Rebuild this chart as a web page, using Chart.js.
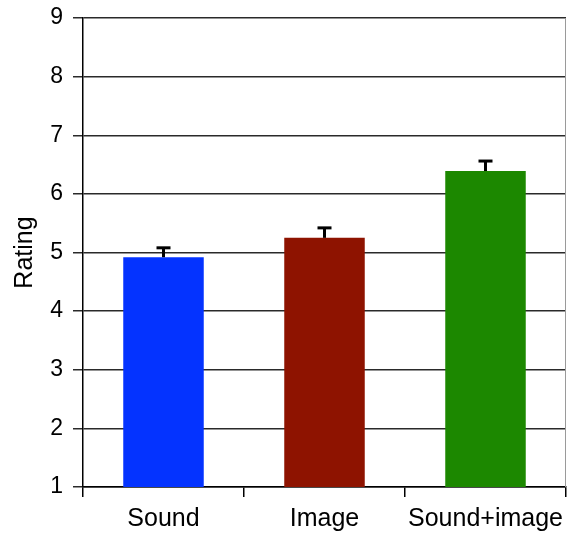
<!DOCTYPE html>
<html>
<head>
<meta charset="utf-8">
<script src="https://cdn.jsdelivr.net/npm/chart.js@4.4.1/dist/chart.umd.min.js"></script>
<style>
  html, body { margin: 0; padding: 0; background: #fff; }
  #chart1 { display: block; }
</style>
</head>
<body>
<canvas id="chart1" width="567" height="533"></canvas>
<script>
// ratings per condition, with the upper error (standard error) above each bar
const conditions = ['Sound', 'Image', 'Sound+image'];
const ratings = [4.92, 5.25, 6.39];
const errors = [0.16, 0.17, 0.17];
const barColors = ['#0433ff', '#8e1300', '#1c8800'];
const yTicks = [1, 2, 3, 4, 5, 6, 7, 8, 9];

const fontFamily = '"Liberation Sans", Arial, Helvetica, sans-serif';

// upper error whiskers with a flat cap
const errorBars = {
    id: 'errorBars',
    afterDatasetsDraw(chart) {
        const ctx = chart.ctx;
        const y = chart.scales.y;
        const meta = chart.getDatasetMeta(0);
        ctx.save();
        ctx.strokeStyle = '#000';
        ctx.lineWidth = 3;
        meta.data.forEach(function(bar, i) {
            const top = y.getPixelForValue(ratings[i] + errors[i]);
            const base = y.getPixelForValue(ratings[i]);
            ctx.beginPath();
            ctx.moveTo(bar.x, base);
            ctx.lineTo(bar.x, top);
            ctx.stroke();
            ctx.beginPath();
            ctx.moveTo(bar.x - 7, top);
            ctx.lineTo(bar.x + 7, top);
            ctx.stroke();
        });
        ctx.restore();
    }
};

// thin grey frame line on the right of the plot
const rightEdge = {
    id: 'rightEdge',
    afterDraw(chart) {
        const a = chart.chartArea;
        const ctx = chart.ctx;
        ctx.save();
        ctx.strokeStyle = '#9a9a9a';
        ctx.lineWidth = 1;
        ctx.beginPath();
        ctx.moveTo(a.right - 0.5, a.top);
        ctx.lineTo(a.right - 0.5, a.bottom);
        ctx.stroke();
        ctx.restore();
    }
};

const data = {
    labels: conditions,
    datasets: [{
        data: ratings,
        backgroundColor: barColors,
        borderWidth: 0,
        barPercentage: 0.5,
        categoryPercentage: 1
    }]
};

const config = {
    type: 'bar',
    data: data,
    options: {
        responsive: false,
        animation: false,
        layout: { padding: { top: 18, right: 1, left: 0, bottom: 0 } },
        plugins: {
            legend: { display: false },
            tooltip: { enabled: false }
        },
        scales: {
            x: {
                grid: {
                    offset: true,
                    drawOnChartArea: false,
                    drawTicks: true,
                    tickLength: 10,
                    color: '#000',
                    lineWidth: 1.5
                },
                border: { color: '#000', width: 1.5 },
                ticks: {
                    color: '#000',
                    padding: 7,
                    maxRotation: 0,
                    font: { family: fontFamily, size: 25 }
                },
                afterFit(scale) {
                    scale.height = 46;
                    scale.paddingLeft = 0;
                    scale.paddingRight = 0;
                }
            },
            y: {
                min: 1,
                max: 9,
                afterBuildTicks(scale) {
                    scale.ticks = yTicks.map(function(v) { return { value: v }; });
                },
                grid: {
                    color: '#2a2a2a',
                    lineWidth: 1.5,
                    tickLength: 10
                },
                border: { color: '#000', width: 1.5 },
                ticks: {
                    color: '#000',
                    padding: 10,
                    font: { family: fontFamily, size: 23 }
                },
                title: {
                    display: true,
                    text: 'Rating',
                    color: '#000',
                    padding: { top: 10, bottom: 0 },
                    font: { family: fontFamily, size: 25 }
                },
                afterFit(scale) {
                    scale.width = 83;
                    scale.paddingTop = 0;
                    scale.paddingBottom = 0;
                }
            }
        }
    },
    plugins: [errorBars, rightEdge]
};

const myChart = new Chart(document.getElementById('chart1'), config);
</script>
</body>
</html>
